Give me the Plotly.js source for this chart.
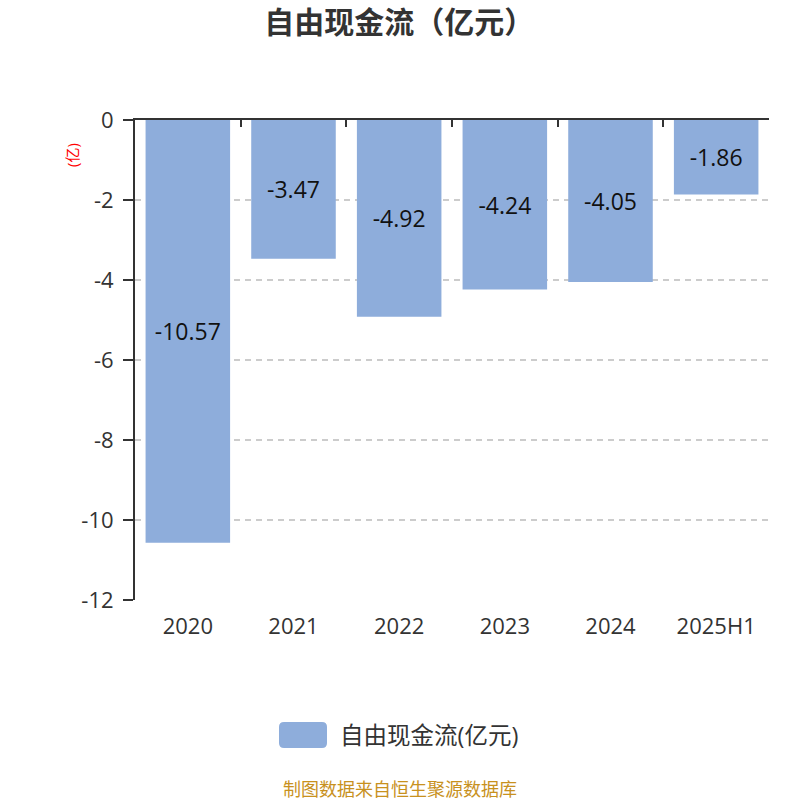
<!DOCTYPE html>
<html>
<head>
<meta charset="utf-8">
<script src="https://cdn.plot.ly/plotly-3.0.1.min.js"></script>
<style>
  html, body { margin: 0; padding: 0; background: #fff; }
  #chart { width: 800px; height: 800px; }
</style>
</head>
<body>
<div id="chart"></div>
<script>
// chart data
const years = ['2020', '2021', '2022', '2023', '2024', '2025H1'];
const freeCashFlow = [-10.57, -3.47, -4.92, -4.24, -4.05, -1.86];
const yTicks = [0, -2, -4, -6, -8, -10, -12];
const seriesName = '自由现金流(亿元)';

const FONT = '"Open Sans", "Noto Sans CJK SC", sans-serif';
const BAR_COLOR = '#8eaddb';

// plot area in pixels (matches margins below)
const PLOT = { l: 135, r: 769, t: 120, b: 600 };

// pixel -> paper coords, used for the legend swatch only
function px(x) { return (x - PLOT.l) / (PLOT.r - PLOT.l); }
function py(y) { return (PLOT.b - y) / (PLOT.b - PLOT.t); }

// rounded rectangle as an svg path in paper coords
function roundRect(x0, y0, x1, y1, r) {
  const rx = r / (PLOT.r - PLOT.l), ry = r / (PLOT.b - PLOT.t);
  const a = px(x0), b = px(x1), top = py(y0), bot = py(y1);
  return 'M' + (a + rx) + ',' + top +
    ' L' + (b - rx) + ',' + top +
    ' Q' + b + ',' + top + ' ' + b + ',' + (top - ry) +
    ' L' + b + ',' + (bot + ry) +
    ' Q' + b + ',' + bot + ' ' + (b - rx) + ',' + bot +
    ' L' + (a + rx) + ',' + bot +
    ' Q' + a + ',' + bot + ' ' + a + ',' + (bot + ry) +
    ' L' + a + ',' + (top - ry) +
    ' Q' + a + ',' + top + ' ' + (a + rx) + ',' + top + ' Z';
}

function main() {
  const bars = {
    type: 'bar',
    x: years,
    y: freeCashFlow,
    name: seriesName,
    marker: { color: BAR_COLOR },
    text: freeCashFlow.map(v => v.toFixed(2)),
    textposition: 'inside',
    insidetextanchor: 'middle',
    textfont: { family: FONT, size: 23, color: '#111' },
    hoverinfo: 'x+y',
    showlegend: false
  };

  // invisible helper so the top axis (line at zero with tick marks) gets drawn
  const topAxisHelper = {
    type: 'scatter',
    x: [-0.5, 5.5],
    y: [0, 0],
    xaxis: 'x2',
    mode: 'lines',
    line: { width: 0 },
    showlegend: false,
    hoverinfo: 'skip'
  };

  const layout = {
    width: 800,
    height: 800,
    margin: { l: PLOT.l, r: 800 - PLOT.r, t: PLOT.t, b: 800 - PLOT.b },
    paper_bgcolor: '#fff',
    plot_bgcolor: '#fff',
    font: { family: FONT, color: '#333' },
    title: {
      text: '<b>自由现金流（亿元）</b>',
      x: 0.499,
      xanchor: 'center',
      y: 0.972,
      yanchor: 'middle',
      font: { family: FONT, size: 30, color: '#333' }
    },
    bargap: 0.2,
    xaxis: {
      type: 'category',
      range: [-0.5, 5.5],
      showline: false,
      showgrid: false,
      zeroline: false,
      ticks: '',
      ticklabelstandoff: 11,
      tickfont: { family: FONT, size: 22, color: '#333' },
      fixedrange: true
    },
    xaxis2: {
      overlaying: 'x',
      side: 'top',
      range: [-0.5, 5.5],
      showgrid: false,
      zeroline: false,
      showline: true,
      linecolor: '#333',
      linewidth: 2,
      ticks: 'inside',
      ticklen: 7,
      tickwidth: 2,
      tickcolor: '#333',
      tickvals: [-0.5, 0.5, 1.5, 2.5, 3.5, 4.5, 5.5],
      showticklabels: false,
      fixedrange: true
    },
    yaxis: {
      range: [-12, 0],
      tickvals: yTicks,
      ticktext: yTicks.map(String),
      showline: true,
      linecolor: '#333',
      linewidth: 2,
      ticks: 'outside',
      ticklen: 10,
      tickwidth: 2,
      tickcolor: '#333',
      ticklabelstandoff: 5,
      showgrid: true,
      gridcolor: '#cccccc',
      griddash: '6px,5px',
      gridwidth: 1.5,
      zeroline: false,
      tickfont: { family: FONT, size: 22, color: '#333' },
      fixedrange: true
    },
    showlegend: false,
    shapes: [
      {
        // legend swatch
        type: 'path',
        xref: 'paper', yref: 'paper',
        path: roundRect(279, 722, 327, 748, 5),
        fillcolor: BAR_COLOR,
        line: { width: 0 }
      }
    ],
    annotations: [
      {
        text: '(亿)',
        xref: 'paper', yref: 'paper',
        x: px(72), y: py(155),
        xanchor: 'center', yanchor: 'middle',
        textangle: -90,
        showarrow: false,
        font: { family: FONT, size: 15, color: '#ff0000' }
      },
      {
        // legend text
        text: seriesName,
        xref: 'paper', yref: 'paper',
        x: px(338), y: py(735),
        xanchor: 'left', yanchor: 'middle',
        showarrow: false,
        font: { family: FONT, size: 23.5, color: '#333' }
      },
      {
        text: '制图数据来自恒生聚源数据库',
        xref: 'paper', yref: 'paper',
        x: px(400), y: py(789),
        xanchor: 'center', yanchor: 'middle',
        showarrow: false,
        font: { family: FONT, size: 18, color: '#c8911e' }
      }
    ]
  };

  Plotly.newPlot('chart', [bars, topAxisHelper], layout, { displayModeBar: false, staticPlot: true });
}

main();
</script>
</body>
</html>
